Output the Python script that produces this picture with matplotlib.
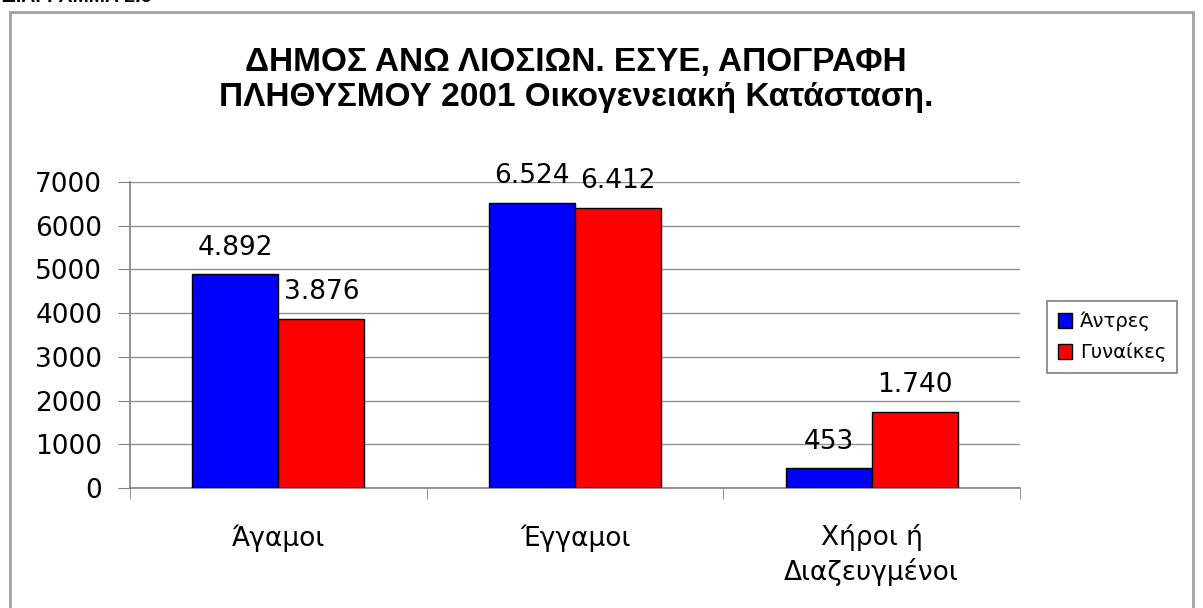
import numpy as np
import matplotlib.pyplot as plt
from matplotlib.patches import Rectangle, Patch

plt.rcParams['font.family'] = ['DejaVu Sans']

# --- data ---
categories = ["Άγαμοι", "Έγγαμοι", "Χήροι ή\nΔιαζευγμένοι"]
men = [4892, 6524, 453]
women = [3876, 6412, 1740]
series_names = ["Άντρες", "Γυναίκες"]
yticks = [0, 1000, 2000, 3000, 4000, 5000, 6000, 7000]

def fmt(v):
    # greek thousands separator
    return f"{v:,}".replace(",", ".")

fig = plt.figure(figsize=(12.03, 6.08), dpi=100)

# outer frame of the chart object
fig.patches.append(Rectangle((10 / 1203, -0.05), 1183 / 1203, 1 - 12 / 608 + 0.05,
                             transform=fig.transFigure, fill=False,
                             edgecolor="#a0a0a0", lw=2))
# caption cut off at the top of the page (only its foot shows in the original)
fig.text(0.002, 1 - 2 / 608, "ΔΙΑΓΡΑΜΜΑ 2.6", fontsize=14, fontweight="bold",
         va="baseline", ha="left", family=["Liberation Sans", "DejaVu Sans"])

fig.text(0.479, 1 - 80 / 608,
         "ΔΗΜΟΣ ΑΝΩ ΛΙΟΣΙΩΝ. ΕΣΥΕ, ΑΠΟΓΡΑΦΗ\nΠΛΗΘΥΣΜΟΥ 2001 Οικογενειακή Κατάσταση.",
         ha="center", va="center", fontsize=24, fontweight="bold", linespacing=1.2,
         family=["Liberation Sans", "DejaVu Sans"])

ax = fig.add_axes([130 / 1203, 1 - 488 / 608, 890 / 1203, 306 / 608])

x = np.arange(len(categories))
w = 0.29
b1 = ax.bar(x - w / 2, men, w, color="#0000ff", edgecolor="black", lw=1, zorder=3)
b2 = ax.bar(x + w / 2, women, w, color="#ff0000", edgecolor="black", lw=1, zorder=3)

for bars, vals in ((b1, men), (b2, women)):
    for r, v in zip(bars, vals):
        ax.annotate(fmt(v), (r.get_x() + r.get_width() / 2, v), xytext=(0, 14),
                    textcoords="offset points", ha="center", va="baseline",
                    fontsize=19, zorder=4)

ax.set_xlim(-0.5, 2.5)
ax.set_ylim(0, 7000)
ax.set_yticks(yticks)
ax.set_yticklabels([str(t) for t in yticks], fontsize=19)
ax.set_xticks(x)
ax.set_xticklabels(categories, fontsize=19, linespacing=1.3)
ax.set_xticks([-0.5, 0.5, 1.5, 2.5], minor=True)
ax.tick_params(axis="x", which="major", length=0, pad=26)
ax.tick_params(axis="x", which="minor", length=8, color="#808080", direction="out")
ax.tick_params(axis="y", length=9, color="#808080", pad=11)

ax.grid(axis="y", color="#909090", lw=1, zorder=0)
for s in ("top", "right"):
    ax.spines[s].set_visible(False)
for s in ("left", "bottom"):
    ax.spines[s].set_color("#808080")
    ax.spines[s].set_linewidth(1.2)

handles = [Patch(facecolor="#0000ff", edgecolor="black"),
           Patch(facecolor="#ff0000", edgecolor="black")]
leg = fig.legend(handles, series_names, loc="center", bbox_to_anchor=(1112 / 1203, 1 - 337 / 608),
                 fontsize=14, fancybox=False, edgecolor="#808080", framealpha=1,
                 handlelength=0.75, handleheight=0.75, handletextpad=0.4, borderpad=0.55,
                 labelspacing=0.6, borderaxespad=0)
leg.get_frame().set_linewidth(1.2)

fig.savefig("out.png", dpi=100)
